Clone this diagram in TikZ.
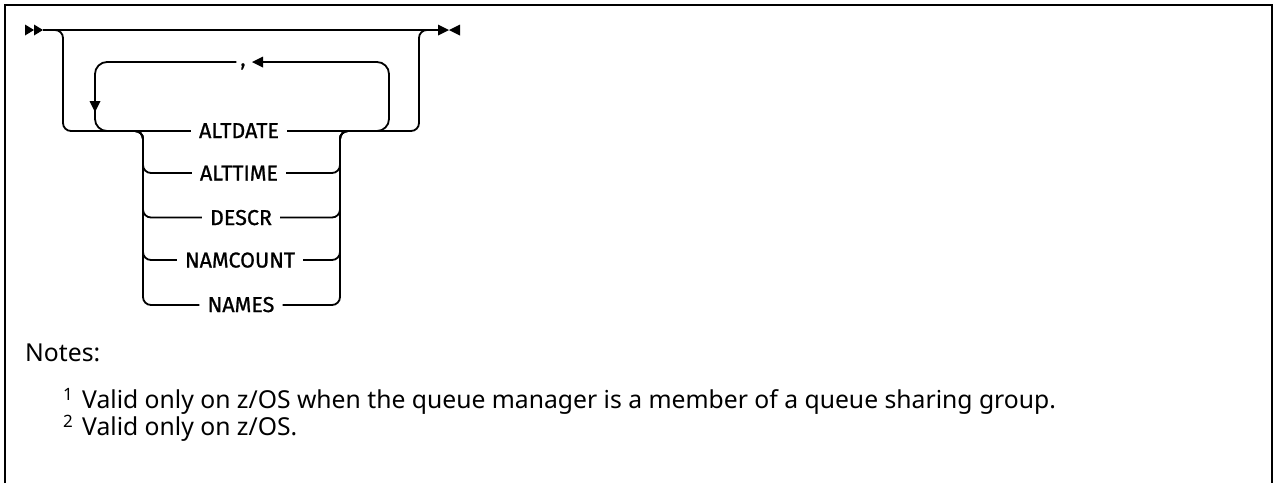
\documentclass[tikz,border=0pt]{standalone}
\usepackage{fontspec}
\setmainfont{Noto Sans}
\newfontfamily\labfont[FakeBold=1]{Fira Sans}
\begin{document}
\begin{tikzpicture}[x=1pt,y=-1pt,
  rail/.style={line width=1.8pt, rounded corners=8pt},
  loop/.style={line width=1.8pt, rounded corners=12pt},
  kw/.style={font=\labfont\fontsize{21.5}{24}\selectfont, inner xsep=8pt, inner ysep=0pt, anchor=base},
  note/.style={font=\fontsize{24.7}{28}\selectfont, inner sep=0pt, anchor=base west},
  sup/.style={font=\fontsize{17}{19}\selectfont, inner sep=0pt, anchor=base west},
  tip/.style={fill=black, draw=none},
  frame/.style={line width=2pt}]
\useasboundingbox (0,0) rectangle (1274,483);
% frame
\draw[frame] (5,483) -- (5,5) -- (1272,5) -- (1272,483);
% start / end markers
\coordinate (s1) at (43,30);
\coordinate (e0) at (438,30);
\fill[tip] (25,24.5) -- (34,30) -- (25,35.5) -- cycle;
\fill[tip] (34,24.5) -- (43,30) -- (34,35.5) -- cycle;
\fill[tip] (438,24.5) -- (449,30) -- (438,35.5) -- cycle;
\fill[tip] (460,24.5) -- (449,30) -- (460,35.5) -- cycle;
% keyword nodes
\node[kw] (altdate) at (239,138) {ALTDATE};
\node[kw] (alttime) at (239,180.5) {ALTTIME};
\node[kw] (descr) at (241,225) {DESCR};
\node[kw] (namcount) at (240,267.5) {NAMCOUNT};
\node[kw] (names) at (241,312) {NAMES};
\node[font=\labfont\fontsize{21}{24}\selectfont, inner sep=0pt, anchor=base] (comma) at (243,66) {,};
% main line
\draw[line width=1.8pt] (s1) -- (e0);
% outer optional branch
\draw[rail] (50,30) -| (63,131) -- (altdate.west |- 0,131);
\draw[rail] (altdate.east |- 0,131) -- (419,131) |- (432,30);
% repeat loop
\draw[loop] ([xshift=-4pt]comma.west |- 0,62) -| (95,131) -- (115,131);
\fill[tip] (89.5,101) -- (100.5,101) -- (95,112) -- cycle;
\draw[loop] (365,131) -| (389,62) -- (262,62);
\fill[tip] (263,56.5) -- (263,67.5) -- (252,62) -- cycle;
% choice branches
\foreach \n/\y in {alttime/173, descr/217.5, namcount/260, names/305} {
  \draw[rail] (130,131) -| (143,\y) -- (\n.west |- 0,\y);
  \draw[rail] (\n.east |- 0,\y) -- (340,\y) |- (353,131);
}
% notes
\node[note] (notes) at (25,361) {Notes:};
\node[sup] (sup1) at (63,400) {1};
\node[note] (n1) at (82,408) {Valid only on z/OS when the queue manager is a member of a queue sharing group.};
\node[sup] (sup2) at (63,427) {2};
\node[note] (n2) at (82,435) {Valid only on z/OS.};
\end{tikzpicture}
\end{document}
